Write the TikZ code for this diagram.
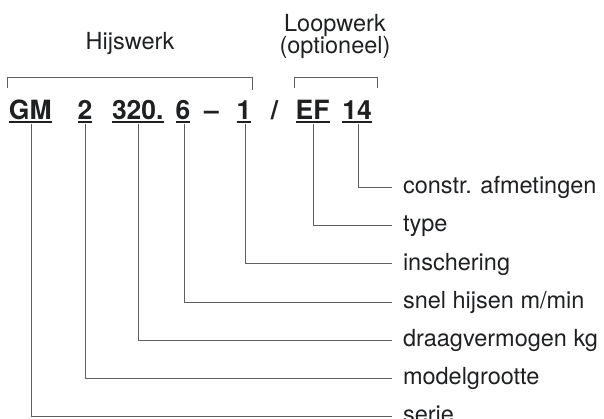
\documentclass[tikz,border=0pt]{standalone}
\usepackage{fontspec}
\setmainfont{TeX Gyre Heros}
\definecolor{ink}{RGB}{30,32,34}
\definecolor{wire}{RGB}{95,95,95}
\tikzset{
  codetext/.style={font=\fontsize{26.5}{28}\selectfont\bfseries, text=ink, inner sep=0pt, outer sep=0pt, anchor=base west},
  headtext/.style={font=\fontsize{23.5}{25}\selectfont, text=ink, inner sep=0pt, anchor=base},
  labeltext/.style={font=\fontsize{23.5}{25}\selectfont, text=ink, anchor=west, inner xsep=11pt, inner ysep=0pt, outer sep=0pt, text height=12.2pt, text depth=0pt},
  wireline/.style={draw=wire, line width=1pt},
  uline/.style={draw=ink, line width=1.5pt},
}
\begin{document}
\begin{tikzpicture}[x=1pt,y=-1pt]
\useasboundingbox (0,0) rectangle (604,419);
% headings
\node[headtext] (hijs) at (130,50) {Hijswerk};
\node[headtext] (loop) at (335,31.7) {Loopwerk};
\node[headtext] (opt) at (335,53.3) {(optioneel)};
% brackets
\draw[wireline] (7,88) -- (7,78) -- (252,78) -- (252,90);
\draw[wireline] (294,88) -- (294,78) -- (377,78) -- (377,88);
% code
\node[codetext] (gm) at (9,119.5) {GM};
\node[codetext] (two) at (77.7,119.5) {2};
\node[codetext] (cap) at (112,119.5) {320.};
\node[codetext] (six) at (175.7,119.5) {6};
\node[codetext, anchor=base] (dash) at (211.5,119.5) {–};
\node[codetext] (one) at (236.7,119.5) {1};
\node[codetext, anchor=base] (slash) at (274.5,119.5) {/};
\node[codetext] (ef) at (295.7,119.5) {EF};
\node[codetext] (ft) at (342.3,119.5) {14};
% underlines
\foreach \n in {gm,two,cap,six,one,ef,ft}{
  \draw[uline] ([yshift=-2.3pt]\n.base west) -- ([yshift=-2.3pt]\n.base east);
}
% labels
\node[labeltext] (constr) at (392,187.3) {constr. afmetingen};
\node[labeltext] (type) at (392,225.5) {type};
\node[labeltext] (insch) at (392,264) {inschering};
\node[labeltext] (snel) at (392,302.3) {snel hijsen m/min};
\node[labeltext] (draag) at (392,340.5) {draagvermogen kg};
\node[labeltext] (model) at (392,378.7) {modelgrootte};
\node[labeltext] (serie) at (392,416.7) {serie};
% connector start points
\coordinate (cgm) at (31.7,124);
\coordinate (ctwo) at (85.3,124);
\coordinate (ccap) at (138.7,124);
\coordinate (csix) at (184,124);
\coordinate (cone) at (245,124);
\coordinate (cef) at (313,124);
\coordinate (cft) at (358,124);
\draw[wireline] (cft) |- (constr.west);
\draw[wireline] (cef) |- (type.west);
\draw[wireline] (cone) |- (insch.west);
\draw[wireline] (csix) |- (snel.west);
\draw[wireline] (ccap) |- (draag.west);
\draw[wireline] (ctwo) |- (model.west);
\draw[wireline] (cgm) |- (serie.west);
\end{tikzpicture}
\end{document}
